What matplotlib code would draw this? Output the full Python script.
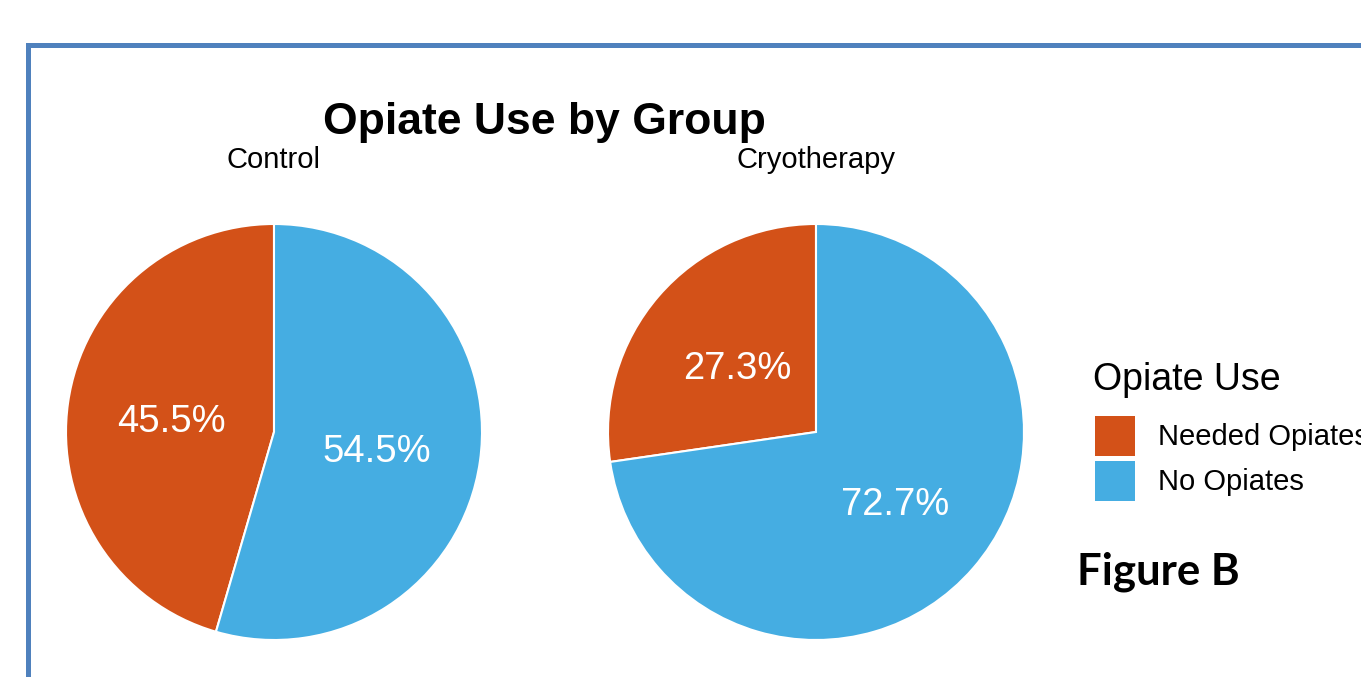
import matplotlib.pyplot as plt
from matplotlib.patches import Patch, Rectangle

# share of patients in each group
groups = ["Control", "Cryotherapy"]
categories = ["Needed Opiates", "No Opiates"]
needed_pct = [45.5, 27.3]
none_pct = [54.5, 72.7]

colors = ["#D35118", "#45ADE2"]

W, H = 1361, 677
fig = plt.figure(figsize=(W / 100, H / 100), dpi=100)
plt.rcParams["font.family"] = ["Liberation Sans", "DejaVu Sans"]


def px_box(cx, cy, r):
    """axes rect (figure fraction) for a pie centred at pixel (cx, cy)"""
    return [(cx - r) / W, (H - cy - r) / H, 2 * r / W, 2 * r / H]


def fy(py):
    return 1 - py / H


centers = [(274, 432), (816, 432)]
R = 208

for name, a, b, (cx, cy) in zip(groups, needed_pct, none_pct, centers):
    ax = fig.add_axes(px_box(cx, cy, R))
    _, _, autotexts = ax.pie(
        [a, b], colors=colors, startangle=90, counterclock=True,
        radius=1.0, autopct="%.1f%%", pctdistance=0.5,
        wedgeprops=dict(edgecolor="white", linewidth=1.5),
        textprops=dict(color="white", fontsize=27.5))
    # nudge the percentages down a touch
    for t in autotexts:
        x, y = t.get_position()
        t.set_position((x, y - 0.024))
    ax.set_xlim(-1, 1)
    ax.set_ylim(-1, 1)
    ax.set_aspect("equal")
    ax.axis("off")
    fig.text(cx / W, fy(168), name, ha="center", va="baseline", fontsize=21)

fig.text(544 / W, fy(134), "Opiate Use by Group", ha="center", va="baseline",
         fontsize=32, fontweight="bold")

# legend: title drawn separately so the gap to the swatches can be set
fig.text(1093 / W, fy(390), "Opiate Use", ha="left", va="baseline", fontsize=27)
handles = [Patch(facecolor=c, edgecolor="none") for c in colors]
fig.legend(handles, categories, loc="upper left",
           bbox_to_anchor=(1095 / W, fy(416)), frameon=False,
           fontsize=21, handlelength=1.37, handleheight=1.733,
           handletextpad=0.78, labelspacing=0.17, borderpad=0,
           borderaxespad=0)

fig.text(1077 / W, fy(585), "Figure B", ha="left", va="baseline",
         fontsize=31.5, fontweight="bold", family=["Lato", "DejaVu Sans"])

# frame around the panel, running off the right and bottom edges
fig.patches.append(Rectangle((28 / W, -0.1), 1.2, fy(45) + 0.1,
                             transform=fig.transFigure, fill=False,
                             edgecolor="#4F81BD", linewidth=3.6))

fig.savefig("out.png", dpi=100)
